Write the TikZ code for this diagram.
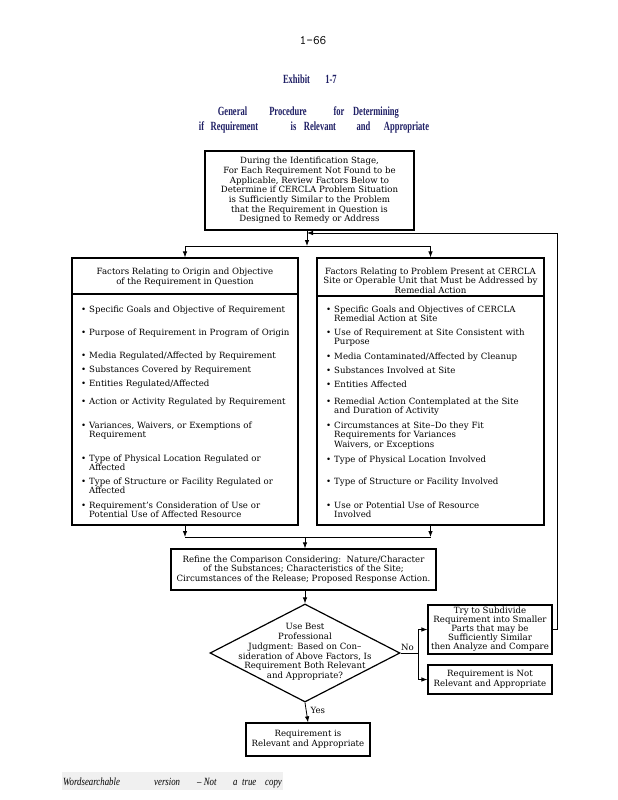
\documentclass[tikz,border=0pt]{standalone}
\usepackage{fontspec}
\newfontfamily\boxfnt{DejaVu Serif}
\newfontfamily\titlefnt[FakeStretch=0.68]{Liberation Serif}
\newfontfamily\footfnt[FakeStretch=0.8]{Liberation Serif}
\usetikzlibrary{arrows.meta,shapes.geometric}
\definecolor{navy}{RGB}{30,30,100}
\begin{document}
\begin{tikzpicture}[x=1pt,y=-1pt,
  box/.style={draw, line width=1.2pt, inner sep=0pt},
  conn/.style={line width=0.8pt},
  arr/.style={conn, -{Latex[length=6pt,width=4.5pt]}},
  t8/.style={font=\boxfnt\fontsize{8.6}{9.7}\selectfont, inner sep=0pt, align=center},
  itm/.style={font=\boxfnt\fontsize{8.6}{9.6}\selectfont, inner sep=0pt, anchor=base west, text width=205pt, align=left},
  bul/.style={font=\boxfnt\fontsize{8.6}{9.6}\selectfont, inner sep=0pt, anchor=base west},
  ttlw/.style={font=\titlefnt\bfseries\fontsize{12.5}{13}\selectfont, text=navy, inner sep=0pt, anchor=base},
  ftw/.style={font=\footfnt\itshape\fontsize{11}{12}\selectfont, text=black, inner sep=0pt, anchor=base west}
]
\useasboundingbox (0,0) rectangle (618,800);

% page number and title
\node[font=\ttfamily\fontsize{13}{13}\selectfont, inner sep=0pt] (pg) at (313,41) {1–66};
\node[ttlw] (e1) at (296.5,84) {Exhibit};
\node[ttlw] (e2) at (331,84) {1-7};
\node[ttlw] (g1) at (232.5,115) {General};
\node[ttlw] (g2) at (288,115) {Procedure};
\node[ttlw] (g3) at (339,115) {for};
\node[ttlw] (g4) at (376,115) {Determining};
\node[ttlw] (h1) at (201.5,130) {if};
\node[ttlw] (h2) at (234.5,130) {Requirement};
\node[ttlw] (h3) at (293.5,130) {is};
\node[ttlw] (h4) at (320,130) {Relevant};
\node[ttlw] (h5) at (363.5,130) {and};
\node[ttlw] (h6) at (406.5,130) {Appropriate};

% top box
\node[box, t8, minimum width=209, minimum height=79] (T) at (309.5,190.5)
 {During the Identification Stage,\\For Each Requirement Not Found to be\\Applicable, Review Factors Below to\\Determine if CERCLA Problem Situation\\is Sufficiently Similar to the Problem\\that the Requirement in Question is\\Designed to Remedy or Address};

% left box
\node[box, minimum width=226, minimum height=267] (L) at (185,391.5) {};
\draw[line width=1.2pt] (L.west |- 0,294) -- (L.east |- 0,294);
\node[t8] (Lh) at (185,277) {Factors Relating to Origin and Objective\\of the Requirement in Question};
\foreach \yy/\txt [count=\i] in {
  312/{Specific Goals and Objective of Requirement},
  335/{Purpose of Requirement in Program of Origin},
  358/{Media Regulated/Affected by Requirement},
  372/{Substances Covered by Requirement},
  386/{Entities Regulated/Affected},
  404/{Action or Activity Regulated by Requirement},
  428/{Variances, Waivers, or Exemptions of\\Requirement},
  461/{Type of Physical Location Regulated or\\Affected},
  484/{Type of Structure or Facility Regulated or\\Affected},
  508/{Requirement’s Consideration of Use or\\Potential Use of Affected Resource}}
{
  \node[bul] (lb\i) at (81,\yy) {\textbullet};
  \node[itm] (li\i) at (89,\yy) {\txt};
}

% right box
\node[box, minimum width=227, minimum height=267] (R) at (430.5,391.5) {};
\draw[line width=1.2pt] (R.west |- 0,296) -- (R.east |- 0,296);
\node[t8] (Rh) at (430.5,280.5) {Factors Relating to Problem Present at CERCLA\\Site or Operable Unit that Must be Addressed by\\Remedial Action};
\foreach \yy/\txt [count=\i] in {
  312/{Specific Goals and Objectives of CERCLA\\Remedial Action at Site},
  335/{Use of Requirement at Site Consistent with\\Purpose},
  359/{Media Contaminated/Affected by Cleanup},
  373/{Substances Involved at Site},
  387/{Entities Affected},
  404/{Remedial Action Contemplated at the Site\\and Duration of Activity},
  428/{Circumstances at Site–Do they Fit\\Requirements for Variances\\Waivers, or Exceptions},
  462/{Type of Physical Location Involved},
  484/{Type of Structure or Facility Involved},
  508/{Use or Potential Use of Resource\\Involved}}
{
  \node[bul] (rb\i) at (326,\yy) {\textbullet};
  \node[itm] (ri\i) at (334,\yy) {\txt};
}

% refine box
\node[box, t8, minimum width=265, minimum height=41] (Rf) at (303.5,569.5)
 {Refine the Comparison Considering:\ \ Nature/Character\\of the Substances; Characteristics of the Site;\\Circumstances of the Release; Proposed Response Action.};

% decision diamond
\node[draw, line width=1.2pt, diamond, inner sep=0pt, minimum width=190, minimum height=98] (D) at (305,653) {};
\node[t8] (Dt) at (305,652) {Use Best\\Professional\\Judgment: Based on Con–\\sideration of Above Factors, Is\\Requirement Both Relevant\\and Appropriate?};

% right-hand boxes
\node[box, t8, minimum width=124, minimum height=49, font=\boxfnt\fontsize{8.6}{9}\selectfont] (Try) at (490,629.5)
 {Try to Subdivide\\Requirement into Smaller\\Parts that may be\\Sufficiently Similar\\then Analyze and Compare};
\node[box, t8, minimum width=124, minimum height=29] (NR) at (490,679.5)
 {Requirement is Not\\Relevant and Appropriate};

% final box
\node[box, t8, minimum width=124, minimum height=33] (F) at (308,739.5)
 {Requirement is\\Relevant and Appropriate};

% connectors
\coordinate (sp) at (307,246);
\coordinate (fb) at (307,233);
\draw[arr] (T.south -| sp) -- (sp);
\draw[conn] (L.north |- sp) -- (R.north |- sp);
\draw[arr] (L.north |- sp) -- (L.north);
\draw[arr] (R.north |- sp) -- (R.north);
\draw[arr] (Try.east) -- ++(5,0) |- (fb);

\coordinate (mj) at (305,537);
\draw[arr] (L.south) -- (L.south |- mj);
\draw[arr] (R.south) -- (R.south |- mj);
\draw[conn] (L.south |- mj) -- (R.south |- mj);
\draw[arr] (mj) -- (mj |- Rf.north);
\draw[arr] (Rf.south -| D.north) -- (D.north);

\coordinate (nj) at (418,653);
\draw[conn] (D.east) -- (nj) node[t8, pos=0.4, above=2pt] (no) {No};
\draw[arr] (nj) |- (Try.west);
\draw[arr] (nj) |- (NR.west);
\draw[arr] (D.south) -- (F.north) node[t8, pos=0.4, right=4pt] (yes) {Yes};

% footer
\fill[gray!12] (62,772) rectangle (283,790);
\node[ftw] (w1) at (63,785) {Wordsearchable};
\node[ftw] (w2) at (154,785) {version};
\node[ftw] (w3) at (197,785) {– Not};
\node[ftw] (w4) at (233,785) {a};
\node[ftw] (w5) at (242,785) {true};
\node[ftw] (w6) at (265,785) {copy};
\end{tikzpicture}
\end{document}
